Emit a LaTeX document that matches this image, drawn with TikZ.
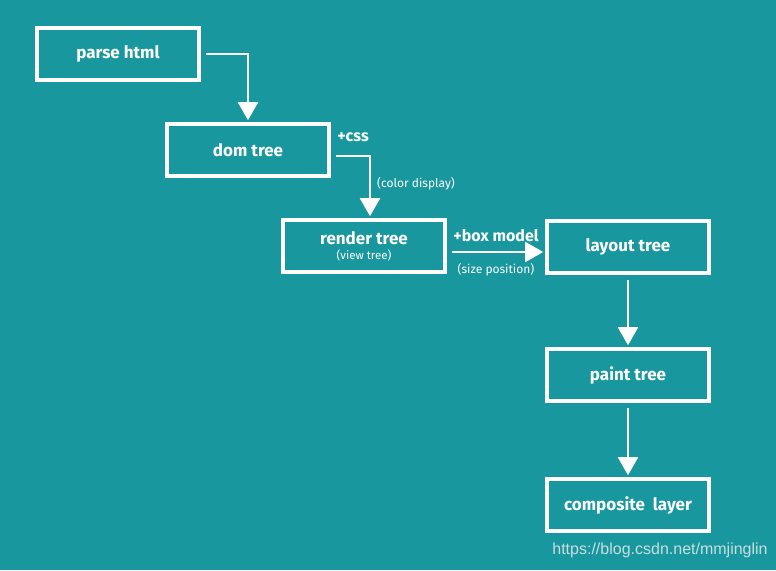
\documentclass[tikz,border=0pt]{standalone}
\usepackage{fontspec}
\setmainfont{Fira Sans}
\newfontfamily\urlfont{Liberation Sans}
\usetikzlibrary{arrows.meta,positioning}
\definecolor{chalkbg}{RGB}{24,152,158}
\definecolor{chalkmark}{RGB}{200,222,224}

\begin{document}
\begin{tikzpicture}[x=1pt,y=-1pt,>={Triangle[width=20pt,length=18pt]},
    font=\fontsize{17}{19}\selectfont\bfseries,
    every node/.style={align=center,text=white},
    stage/.style={draw=white,line width=3.6pt,minimum width=162pt,minimum height=52pt,inner sep=0pt},
    flow/.style={->,draw=white,line width=2pt,shorten <=5pt,shorten >=2pt},
    note/.style={font=\fontsize{16}{18}\selectfont\bfseries},
    small/.style={font=\fontsize{12}{14}\selectfont}]
  \fill[chalkbg] (0,0) rectangle (776,570);
  \useasboundingbox (0,0) rectangle (776,570);
  % stages
  \node[stage] (html) at (118,54) {parse html};
  \node[stage] (dom) at (248,150) {dom tree};
  \node[stage] (render) at (364,246) {render tree\\[-4pt]{\fontsize{11.5}{13}\selectfont\mdseries (view tree)}};
  \node[stage] (layout) at (628,247) {layout tree};
  \node[stage] (paint) at (628,375) {paint tree};
  \node[stage] (layer) at (628,505) {composite\ \ layer};
  % connectors
  \draw[flow] (html.east) -| (dom.north);
  \draw[flow] ([yshift=-6pt]dom.east) -| ([xshift=6pt]render.north);
  \draw[flow] ([yshift=-6pt]render.east) -- ([yshift=-5pt]layout.west);
  \draw[flow] (layout.south) -- (paint.north);
  \draw[flow] (paint.south) -- (layer.north);
  % notes
  \node[note] (css) at (353,137) {+css};
  \node[small] (color) at (416,184) {(color display)};
  \node[note] (box) at (496,236) {+box model};
  \node[small] (size) at (496,270) {(size position)};
  \node[font=\urlfont\fontsize{16}{18}\selectfont,text=chalkmark] (mark) at (660,550) {https://blog.csdn.net/mmjinglin};
\end{tikzpicture}
\end{document}
